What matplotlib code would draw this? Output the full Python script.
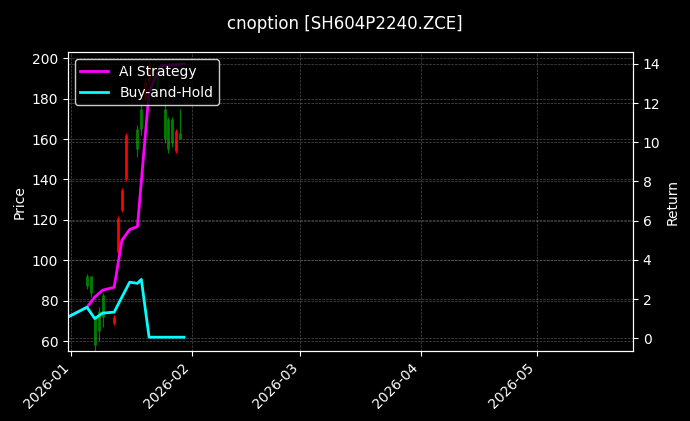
import matplotlib
matplotlib.use("Agg")
import matplotlib.pyplot as plt
import matplotlib.dates as mdates
import pandas as pd

plt.style.use("dark_background")

candle_dates = ["2026-01-05","2026-01-06","2026-01-07","2026-01-08","2026-01-09","2026-01-12",
                "2026-01-13","2026-01-14","2026-01-15","2026-01-18","2026-01-19","2026-01-20",
                "2026-01-21","2026-01-22","2026-01-23","2026-01-25","2026-01-26","2026-01-27",
                "2026-01-28","2026-01-29"]
opens  = [92, 92, 72, 75, 83, 69, 104, 125, 140, 165, 175, 180, 188, 196, 190, 175, 170, 170, 154, 163]
closes = [87, 84, 58, 65, 72, 72, 121, 135, 162, 155, 165, 188, 197, 190, 184, 160, 155, 158, 164, 160]
highs  = [93, 92, 72, 77, 84, 73, 122, 136, 163, 167, 178, 190, 199, 198, 192, 180, 171, 171, 165, 175]
lows   = [86, 82, 55, 60, 67, 68, 103, 124, 139, 151, 162, 179, 187, 188, 182, 158, 153, 156, 153, 160]

ret_dates = ["2025-12-31","2026-01-05","2026-01-07","2026-01-09","2026-01-12","2026-01-14",
             "2026-01-16","2026-01-18","2026-01-19","2026-01-21","2026-01-24","2026-01-30"]
ai_ret = [1.07, 1.58, 2.1, 2.45, 2.6, 5.0, 5.55, 5.7, 8.0, 12.6, 13.9, 14.0]
bh_ret = [1.07, 1.58, 1.0, 1.28, 1.33, 2.1, 2.86, 2.8, 3.0, 0.05, 0.05, 0.05]

cd = pd.to_datetime(candle_dates)
rd = pd.to_datetime(ret_dates)

fig = plt.figure(figsize=(6.9, 4.21), dpi=100)
ax = fig.add_axes([0.0985, 0.166, 0.819, 0.71])
for d, o, c, h, l in zip(cd, opens, closes, highs, lows):
    col = "red" if c >= o else "green"
    x = mdates.date2num(d)
    ax.vlines(x, l, h, color=col, linewidth=0.8)
    ax.vlines(x, min(o, c), max(o, c), color=col, linewidth=2.0)
ax.set_ylim(55, 203)
ax.set_ylabel("Price")
ax.grid(True, color="gray", linestyle="--", linewidth=0.5, alpha=0.6)

ax2 = ax.twinx()
ax2.plot(rd, ai_ret, color="magenta", linewidth=2, label="AI Strategy")
ax2.plot(rd, bh_ret, color="cyan", linewidth=2, label="Buy-and-Hold")
ax2.set_ylim(-0.66, 14.6)
ax2.set_ylabel("Return")
ax2.grid(True, color="gray", linestyle="--", linewidth=0.5, alpha=0.6)
leg = ax2.legend(loc="upper left", facecolor="black", edgecolor="white", framealpha=0.8)

ax.set_xlim(mdates.date2num(pd.Timestamp("2026-01-01")) - 0.9,
            mdates.date2num(pd.Timestamp("2026-01-01")) + 144.7)
ax.xaxis.set_major_locator(mdates.MonthLocator())
ax.xaxis.set_major_formatter(mdates.DateFormatter("%Y-%m"))
plt.setp(ax.get_xticklabels(), rotation=45, ha="right")
ax2.set_yticks([0, 2, 4, 6, 8, 10, 12, 14])

fig.suptitle("cnoption [SH604P2240.ZCE]", y=0.965, fontsize=12)
fig.savefig("out.png", dpi=100)
